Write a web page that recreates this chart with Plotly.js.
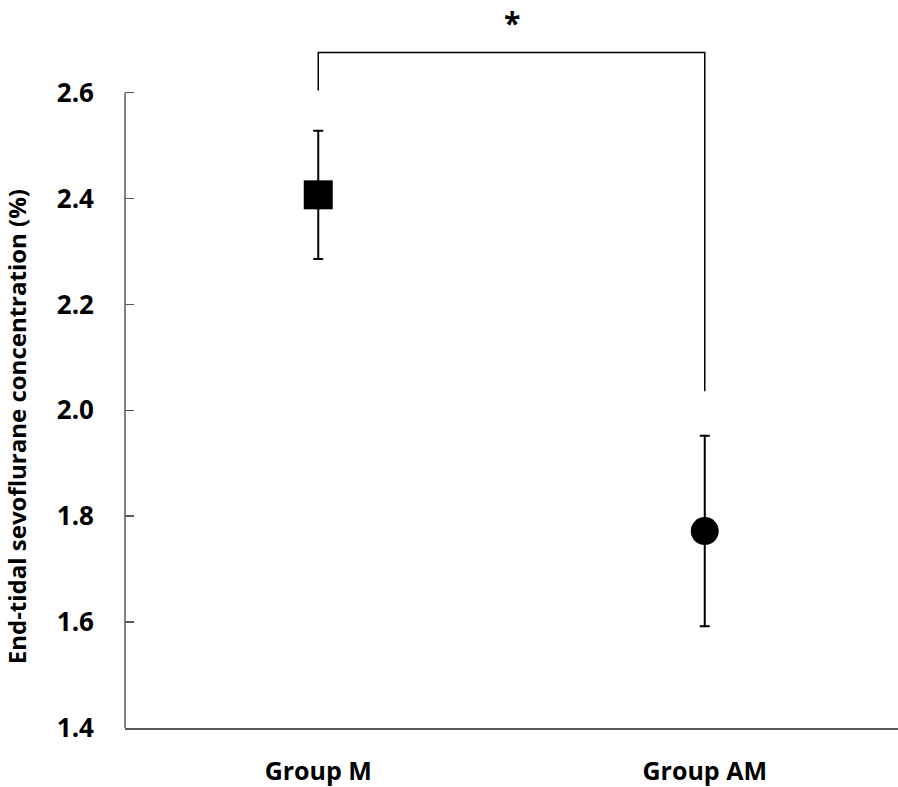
<!DOCTYPE html>
<html>
<head>
<meta charset="utf-8">
<script src="https://cdn.plot.ly/plotly-3.0.1.min.js"></script>
<style>html,body{margin:0;padding:0;background:#fff;}</style>
</head>
<body>
<div id="chart" style="width:898px;height:787px;"></div>
<script>
// Data
const groups = ['Group M', 'Group AM'];
const means = [2.407, 1.772];
const errors = [0.121, 0.180];
const symbols = ['square', 'circle'];
const yTicks = [1.4, 1.6, 1.8, 2.0, 2.2, 2.4, 2.6];
const yTickLabels = ['1.4', '1.6', '1.8', '2.0', '2.2', '2.4', '2.6'];
const bracketX = ['Group M', 'Group M', 'Group AM', 'Group AM'];
const bracketY = [2.604, 2.676, 2.676, 2.036];
const sigLabel = '*';
const yTitle = 'End-tidal sevoflurane concentration (%)';

const FONT = '"Open Sans", "DejaVu Sans", sans-serif';
const AXIS_COLOR = '#595959';
const Y_RANGE = [1.4, 2.775];

const traces = [
  {
    type: 'scatter', mode: 'lines',
    x: bracketX, y: bracketY,
    line: {color: '#000', width: 1.5},
    hoverinfo: 'skip', showlegend: false
  },
  {
    type: 'scatter', mode: 'markers',
    x: groups, y: means,
    error_y: {type: 'data', array: errors, visible: true, color: '#000', thickness: 2, width: 5},
    marker: {symbol: symbols, size: [29, 28], color: 'rgb(0,0,0)', opacity: 1,
             line: {color: 'rgb(0,0,0)', width: 0}},
    opacity: 1,
    showlegend: false
  }
];

const layout = {
  width: 898, height: 787,
  margin: {l: 125, r: 0, t: 0, b: 59},
  paper_bgcolor: '#fff', plot_bgcolor: '#fff',
  showlegend: false,
  font: {family: FONT, color: '#000'},
  xaxis: {
    type: 'category', categoryorder: 'array', categoryarray: groups,
    range: [-0.5, 1.5],
    showline: true, linecolor: AXIS_COLOR, linewidth: 1.5,
    ticks: '', showgrid: false, zeroline: false,
    tickfont: {family: FONT, size: 25, color: '#000', weight: 'bold'},
    ticklabelstandoff: 20
  },
  yaxis: {
    range: Y_RANGE,
    tickvals: yTicks, ticktext: yTickLabels,
    ticks: 'inside', ticklen: 9, tickwidth: 1.5, tickcolor: AXIS_COLOR,
    showline: false, showgrid: false, zeroline: false,
    tickfont: {family: FONT, size: 26, color: '#000', weight: 'bold'},
    ticklabelstandoff: 30
  },
  shapes: [
    {type: 'line', xref: 'paper', yref: 'y', x0: 0, x1: 0, y0: yTicks[0], y1: yTicks[yTicks.length - 1],
     line: {color: AXIS_COLOR, width: 1.5}}
  ],
  annotations: [
    {text: sigLabel, xref: 'paper', yref: 'paper', x: 0.5, y: 1, showarrow: false,
     font: {family: FONT, size: 30, color: '#000', weight: 'bold'}, xanchor: 'center', yanchor: 'top'},
    {text: yTitle, xref: 'paper', yref: 'y', x: -0.141, y: 1.968, textangle: -90, showarrow: false,
     font: {family: FONT, size: 24, color: '#000', weight: 'bold'}, xanchor: 'center', yanchor: 'middle'}
  ]
};

Plotly.newPlot('chart', traces, layout, {displayModeBar: false, staticPlot: true});
</script>
</body>
</html>
